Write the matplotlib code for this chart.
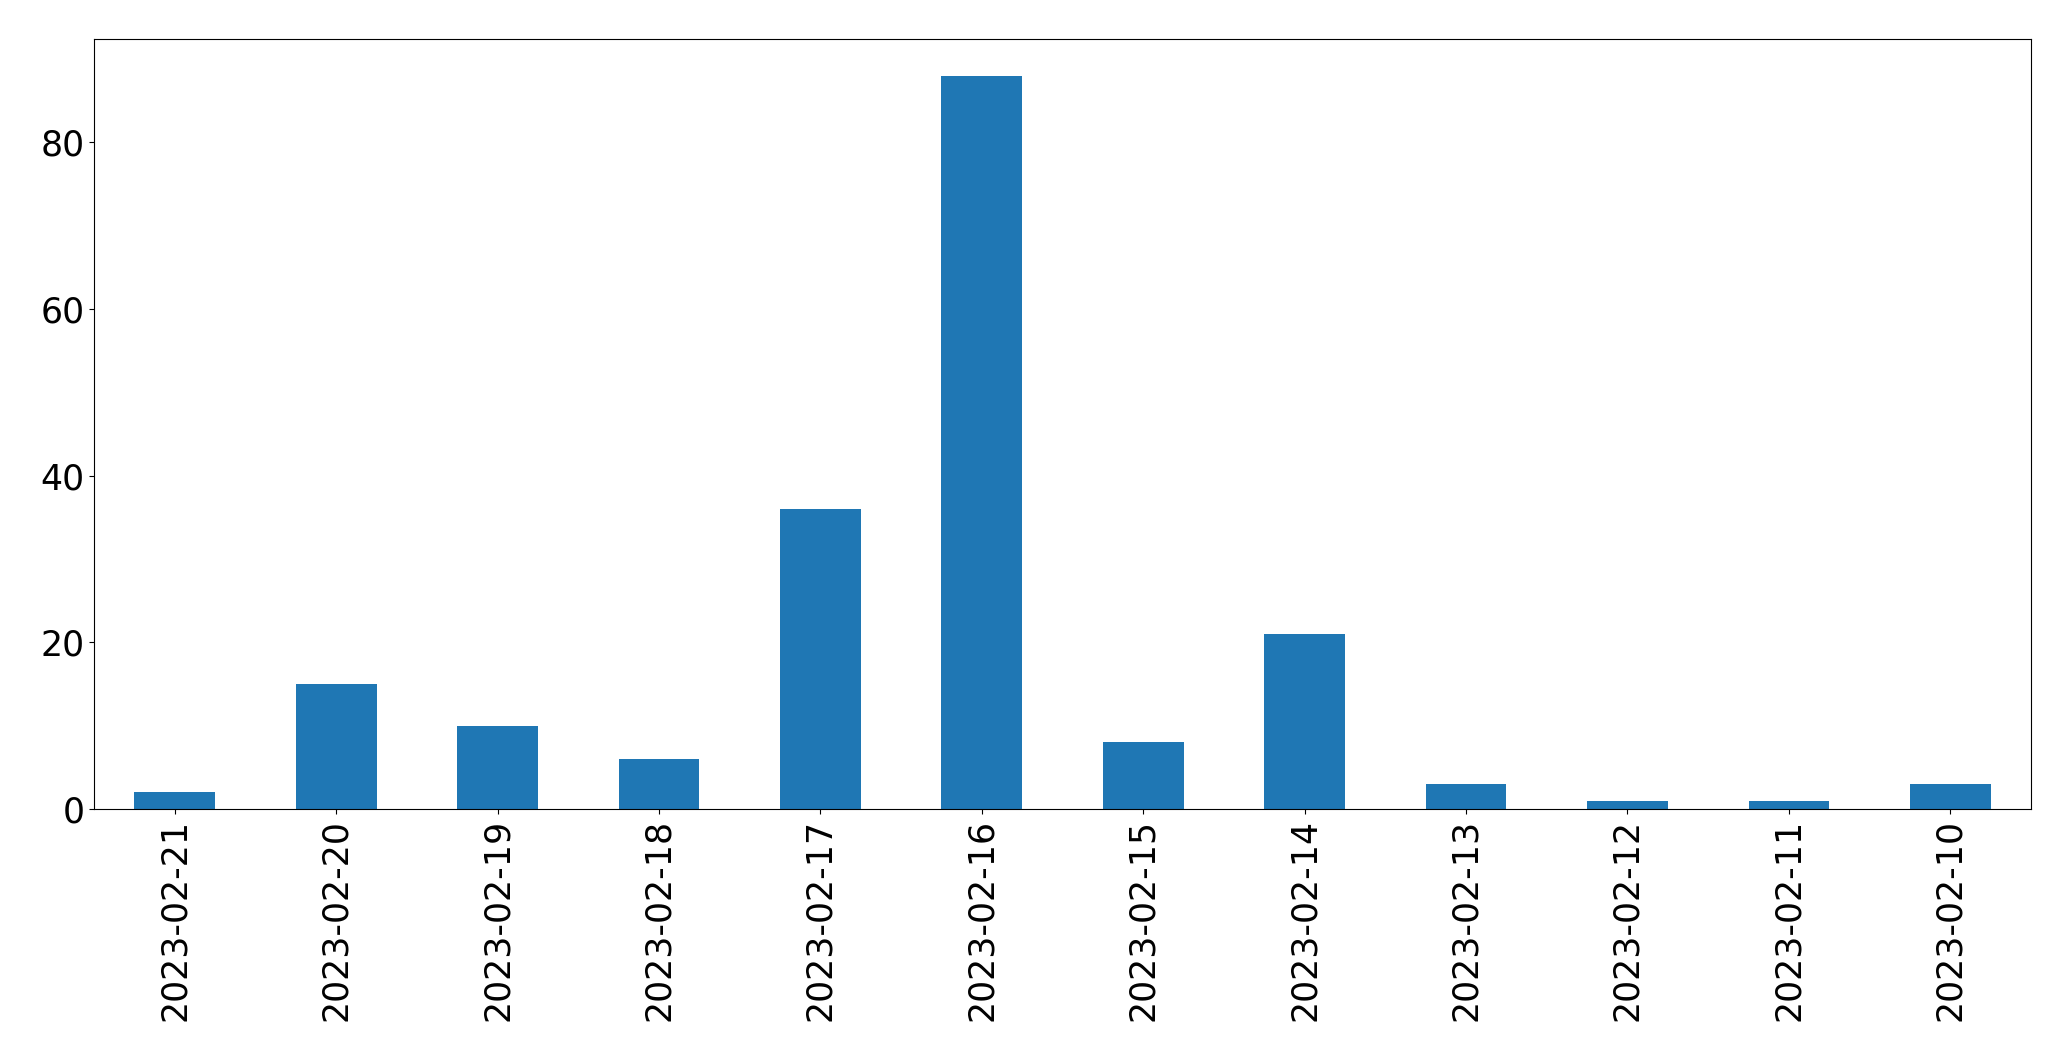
import matplotlib
matplotlib.use("Agg")
import matplotlib.pyplot as plt
import pandas as pd

dates = ["2023-02-21", "2023-02-20", "2023-02-19", "2023-02-18", "2023-02-17", "2023-02-16",
         "2023-02-15", "2023-02-14", "2023-02-13", "2023-02-12", "2023-02-11", "2023-02-10"]
counts = [2, 15, 10, 6, 36, 88, 8, 21, 3, 1, 1, 3]

series = pd.Series(counts, index=dates)

fig = plt.figure(figsize=(20.71, 10.61), dpi=100)
ax = fig.add_axes([0.0454, 0.2375, 0.9353, 0.7257])
series.plot(kind="bar", ax=ax, color="#1f77b4")
ax.tick_params(axis="both", labelsize=25)
ax.set_yticks([0, 20, 40, 60, 80])

fig.savefig("out.png", dpi=100)
